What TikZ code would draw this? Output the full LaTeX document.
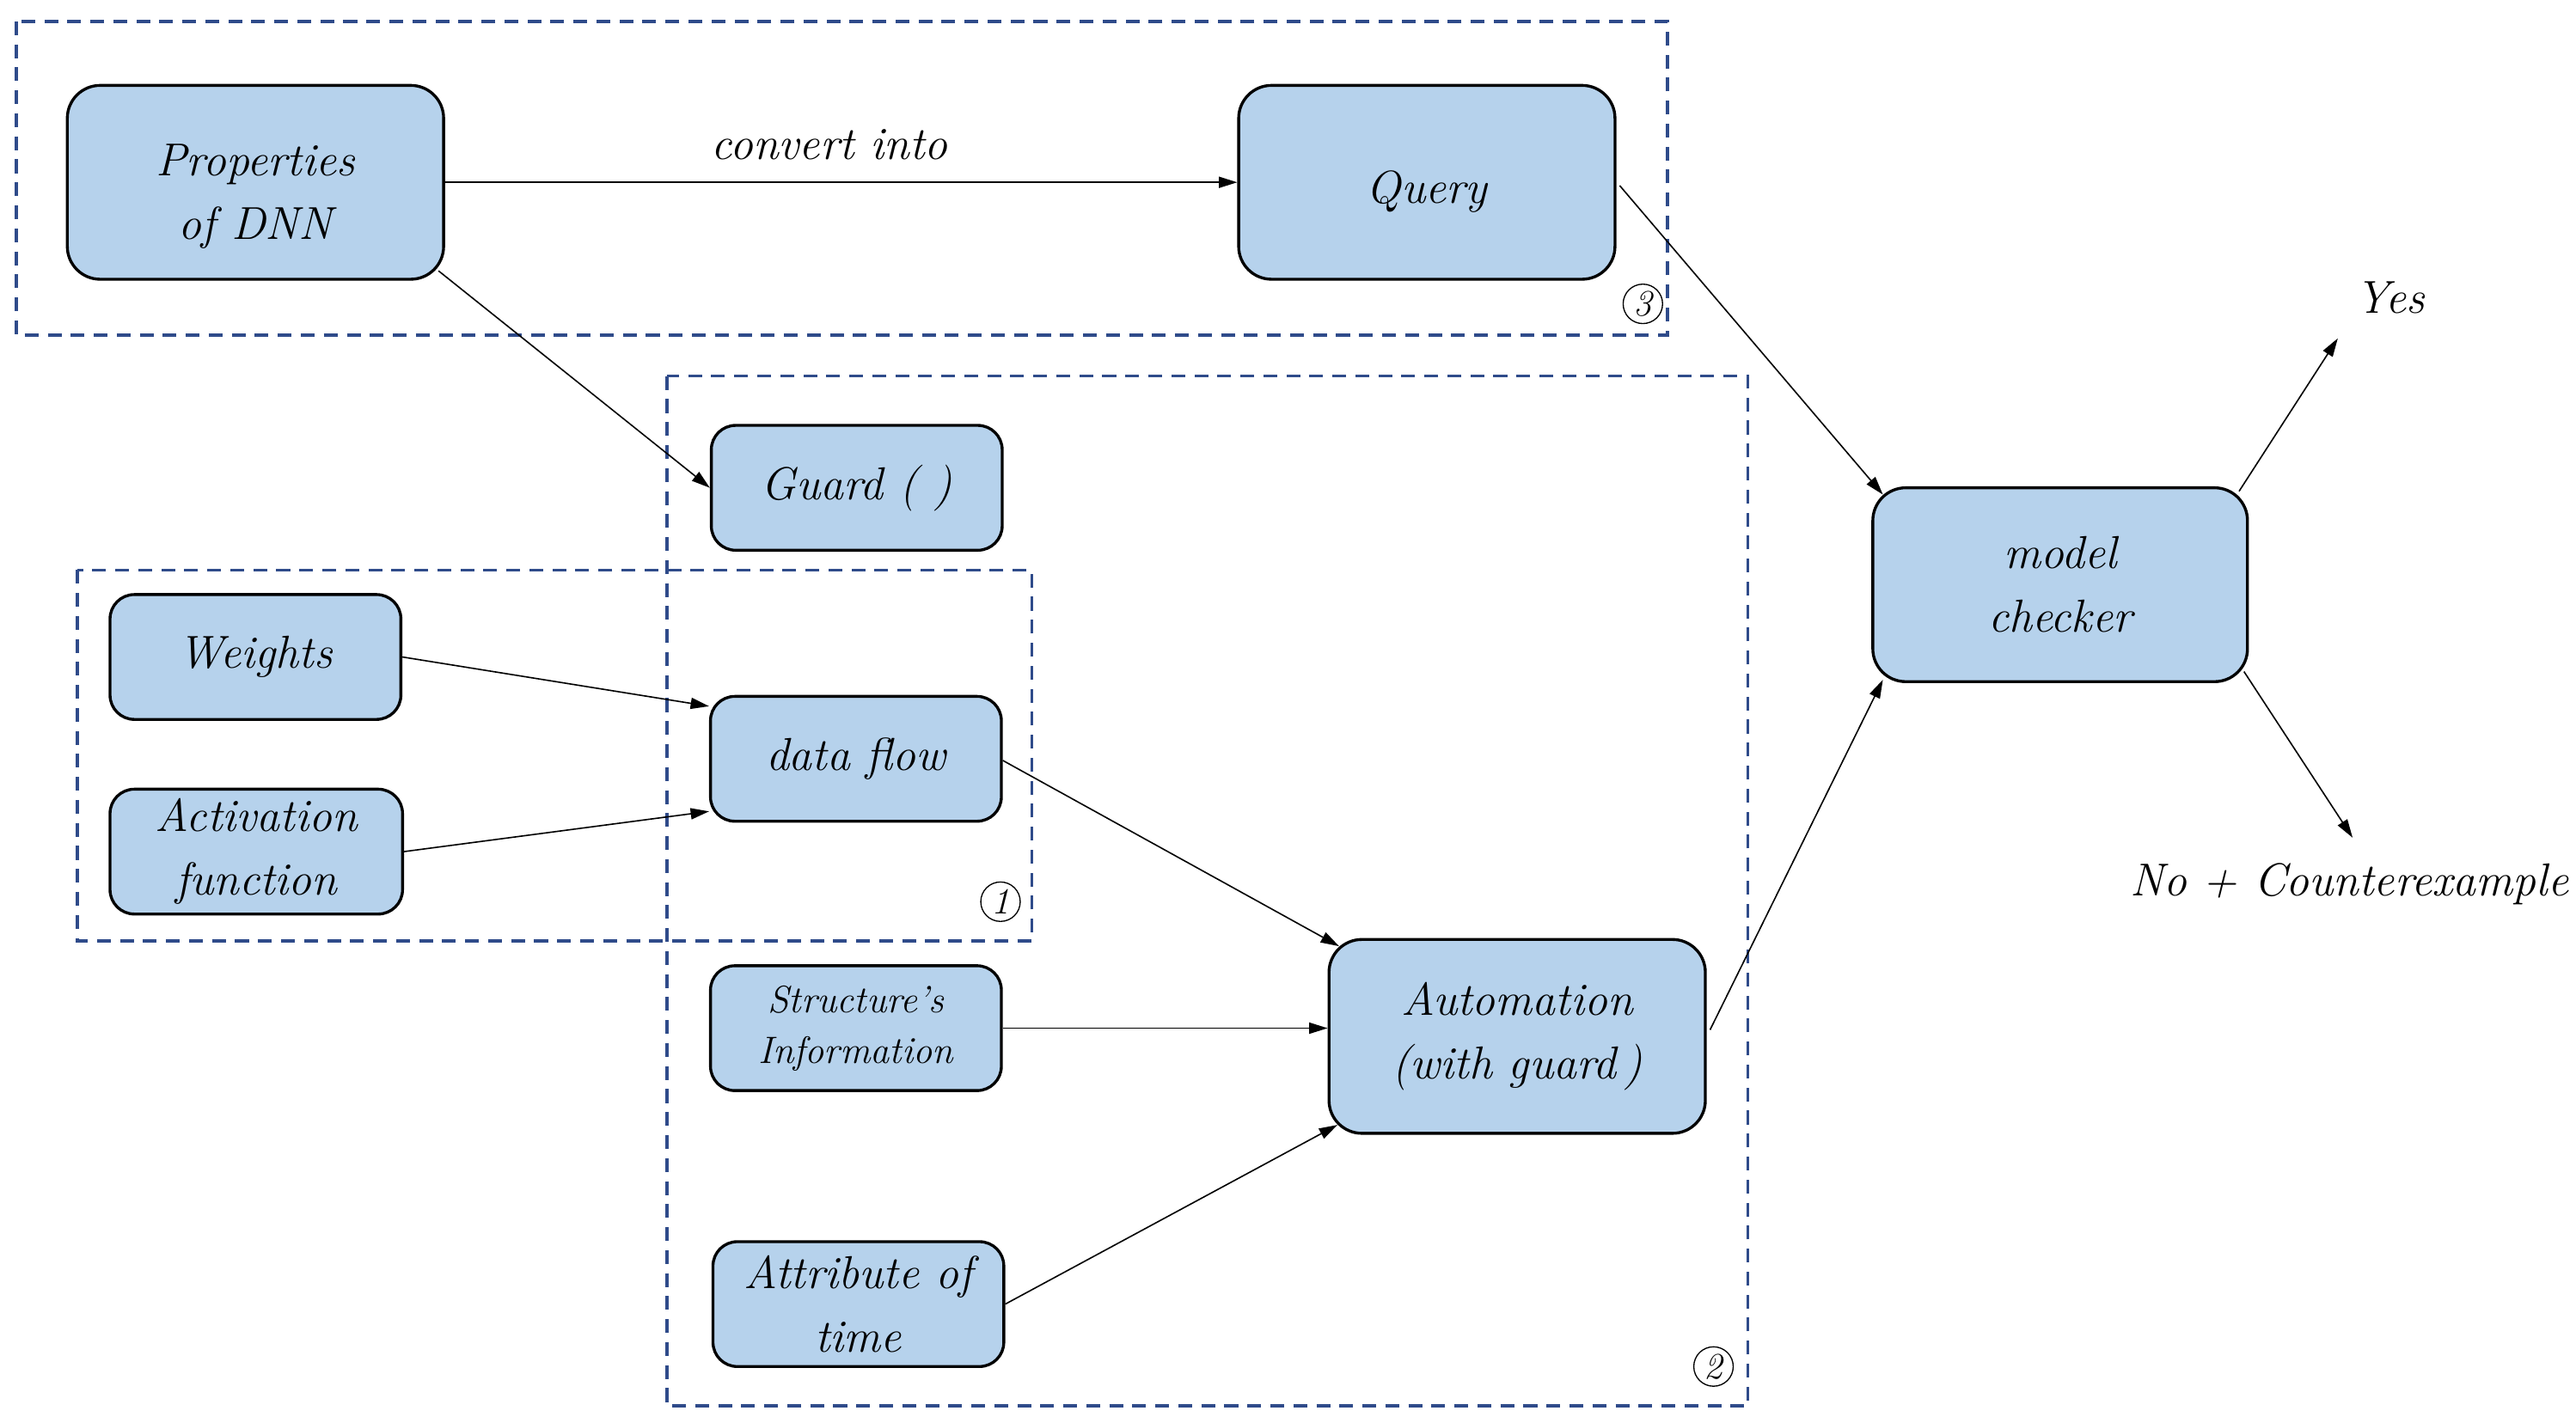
\documentclass[tikz,border=0pt]{standalone}
\usetikzlibrary{arrows.meta,calc}
\definecolor{boxfill}{HTML}{B6D2EC}
\definecolor{dashblue}{HTML}{2F4B8A}
\begin{document}
\begin{tikzpicture}[x=0.025cm,y=-0.025cm,
 bigbox/.style={draw=black, line width=1.25pt, fill=boxfill, rounded corners=0.5cm, minimum width=5.725cm, minimum height=2.95cm, align=center, inner sep=0pt, font=\itshape\fontsize{20}{27.5}\selectfont},
 smallbox/.style={bigbox, rounded corners=0.37cm, minimum width=4.425cm, minimum height=1.9cm},
 arr/.style={-{Triangle[length=0.28cm,width=0.17cm]}, line width=0.6pt},
 dashbox/.style={draw=dashblue, line width=1.3pt, dash pattern=on 0.21cm off 0.14cm},
 lbl/.style={font=\itshape\fontsize{20}{27.5}\selectfont, inner sep=0pt},
 circ/.style={circle, draw, line width=0.5pt, inner sep=0pt, minimum size=0.6cm, font=\itshape\fontsize{16}{16}\selectfont}
]
\useasboundingbox (0,0) rectangle (1568,866.4);

% dashed groups
\draw[dashbox] (10,13) rectangle (1015,204);
\draw[dashbox] (406,229) rectangle (1064,856);
\draw[dashbox] (47,347) rectangle (628,573);
\node[circ] (c3) at (1000,185) {3};
\node[circ] (c2) at (1043,832) {2};
\node[circ] (c1) at (609,549) {1};

% nodes
\node[bigbox, label={[lbl, align=center, yshift=-0.22cm]center:Properties\\of DNN}] (prop) at (155.5,111) {};
\node[bigbox, label={[lbl, yshift=-0.14cm]center:Query}] (query) at (868.5,111) {};
\node[smallbox] (guard) at (521.5,297) {Guard ( )};
\node[smallbox] (weights) at (155.5,400) {Weights};
\node[smallbox, minimum width=4.45cm] (act) at (156,518.5) {Activation\\function};
\node[smallbox] (df) at (521,462) {data flow};
\node[smallbox, font=\itshape\fontsize{16.5}{22}\selectfont] (struct) at (521,626) {Structure’s\\Information};
\node[smallbox] (attr) at (522.5,794) {Attribute of\\time};
\node[bigbox] (auto) at (923.5,631) {Automation\\(with guard\,)};
\node[bigbox, minimum width=5.7cm] (mc) at (1254,356) {model\\checker};

\node[lbl] (conv) at (505,88) {convert into};
\node[lbl] (yes) at (1455,181) {Yes};
\node[lbl] (no) at (1430,538) {No + Counterexample};
\coordinate (yesend) at (1423,206);
\coordinate (noend) at (1432,510);

% connectors
\draw[arr] (prop.east) -- (query.west);
\draw[arr] ($(prop.south east)+(-4,-6)$) -- (guard.west);
\draw[arr] ($(query.east)+(2,2)$) -- ($(mc.north west)+(7,5)$);
\draw[arr] ($(weights.east)+(0,0)$) -- ($(df.west)+(0,-32)$);
\draw[arr] (act.east) -- ($(df.west)+(0,32)$);
\draw[arr] ($(df.east)+(0,1)$) -- ($(auto.north west)+(7,5)$);
\draw[arr] (struct.east) -- (auto.west |- struct.east);
\draw[arr] (attr.east) -- ($(auto.south west)+(6,-6)$);
\draw[arr] ($(auto.east)+(2,-4)$) -- ($(mc.south west)+(7,-2)$);
\draw[arr] ($(mc.north east)+(-6,3)$) -- (yesend);
\draw[arr] ($(mc.south east)+(-3,-7)$) -- (noend);
\end{tikzpicture}
\end{document}
